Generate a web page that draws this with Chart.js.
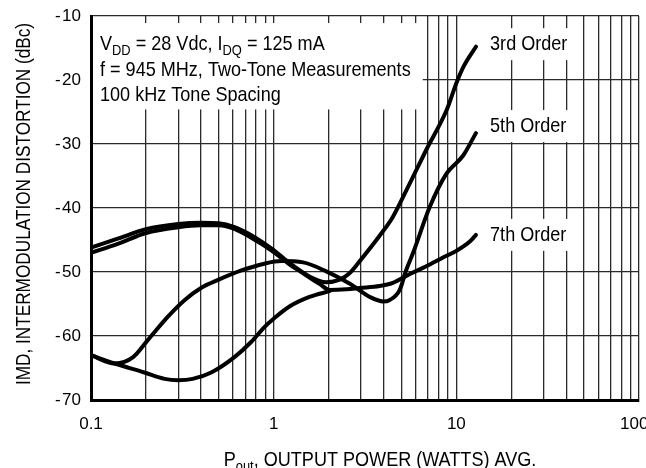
<!DOCTYPE html>
<html>
<head>
<meta charset="utf-8">
<script src="https://cdn.jsdelivr.net/npm/chart.js@4.4.1/dist/chart.umd.min.js"></script>
<style>
  html, body { margin: 0; padding: 0; background: #fff; }
  #wrap { width: 646px; height: 468px; }
</style>
</head>
<body>
<div id="wrap"><canvas id="imd"></canvas></div>
<script>
"use strict";

const FONT = '"Liberation Sans", Arial, sans-serif';
const NARROW = 0.86; // the original lettering is a condensed face

// Pout (W) vs IMD (dBc)
const thirdX = [0.1, 0.14, 0.2, 0.3, 0.4, 0.5, 0.6, 0.75, 0.97, 1.15, 1.22, 1.57, 1.94, 2.3, 2.6, 2.96, 3.81, 4.49, 5.57, 6.85, 8.85, 10, 11, 12.8];
const thirdY = [-46.2, -44.8, -43.3, -42.5, -42.3, -42.4, -42.9, -44.2, -46.3, -48.0, -48.6, -50.7, -51.6, -51.2, -50.2, -48.3, -44.3, -41.4, -36.1, -30.9, -24.7, -20.5, -17.8, -14.8];

const fifthX = [0.1, 0.135, 0.17, 0.205, 0.263, 0.325, 0.4, 0.5, 0.66, 0.89, 1.1, 1.45, 1.94, 2.6, 3.36, 3.97, 4.3, 4.9, 5.3, 5.8, 7.16, 8.85, 10.9, 12.8];
const fifthY = [-63.0, -64.3, -63.3, -60.6, -57.0, -54.4, -52.5, -51.2, -49.8, -48.7, -48.3, -48.5, -49.9, -51.8, -53.9, -54.6, -54.4, -52.8, -49.8, -47.0, -39.8, -34.6, -31.8, -28.3];

const seventhX = [0.1, 0.14, 0.2, 0.3, 0.4, 0.5, 0.6, 0.75, 0.97, 1.22, 1.45, 1.79, 2.02, 2.5, 2.96, 3.8, 4.49, 5.57, 6.85, 8.5, 10, 11.9, 12.8];
const seventhY = [-47.0, -45.6, -43.9, -43.0, -42.7, -42.7, -43.2, -44.6, -46.6, -48.8, -50.2, -51.9, -52.8, -52.7, -52.5, -52.2, -51.7, -50.3, -49.1, -47.7, -46.7, -45.2, -44.2];

// second low-power trace that joins the 7th order curve near 2 W
const lowTraceX = [0.1, 0.135, 0.196, 0.253, 0.3, 0.36, 0.455, 0.61, 0.755, 0.89, 1.0, 1.22, 1.57, 2.02];
const lowTraceY = [-63.0, -64.3, -65.7, -66.7, -66.9, -66.7, -65.7, -63.3, -60.9, -58.6, -57.3, -55.4, -53.9, -53.0];

const xLabelled = [0.1, 1, 10, 100];
const yTicks = [-10, -20, -30, -40, -50, -60, -70];
const orderNames = ["3rd Order", "5th Order", "7th Order"];

const xGrid = [];
for (let e = -1; e <= 1; e++) {
  for (let m = 1; m <= 9; m++) {
    xGrid.push(Number((m * Math.pow(10, e)).toPrecision(2)));
  }
}
xGrid.push(100);

function toPoints(xs, ys) {
  return xs.map((x, i) => ({x: x, y: ys[i]}));
}

function curve(label, xs, ys) {
  return {
    label: label,
    data: toPoints(xs, ys),
    borderColor: "#000",
    borderWidth: 4,
    borderCapStyle: "round",
    borderJoinStyle: "round",
    pointRadius: 0,
    fill: false,
    cubicInterpolationMode: "monotone"
  };
}

// text squeezed horizontally, with optional subscripts
function drawRich(ctx, parts, x, y, size) {
  ctx.save();
  ctx.translate(x, y);
  ctx.scale(NARROW, 1);
  let cx = 0;
  for (const part of parts) {
    const sub = part[1];
    ctx.font = (sub ? Math.round(size * 0.72) : size) + "px " + FONT;
    ctx.fillText(part[0], cx, sub ? size * 0.25 : 0);
    cx += ctx.measureText(part[0]).width;
  }
  ctx.restore();
  return cx * NARROW;
}

function richWidth(ctx, parts, size) {
  let w = 0;
  for (const part of parts) {
    ctx.font = (part[1] ? Math.round(size * 0.72) : size) + "px " + FONT;
    w += ctx.measureText(part[0]).width;
  }
  return w * NARROW;
}

const noteLines = [
  [["V"], ["DD", true], [" = 28 Vdc, I"], ["DQ", true], [" = 125 mA"]],
  [["f = 945 MHz, Two-Tone Measurements"]],
  [["100 kHz Tone Spacing"]]
];

const LABEL_AT = {x: 15.3, y: [-14.4, -27.2, -44.2]};

const annotations = {
  id: "annotations",
  beforeDatasetsDraw(chart) {
    const {ctx, chartArea, scales: {x, y}} = chart;
    ctx.save();
    ctx.fillStyle = "#fff";
    // conditions box
    const bx = chartArea.left + 2;
    const by = y.getPixelForValue(-11.1);
    ctx.fillRect(bx, by, x.getPixelForValue(6.55) - bx, y.getPixelForValue(-24.6) - by);
    // boxes behind the order labels
    const lx = x.getPixelForValue(LABEL_AT.x);
    LABEL_AT.y.forEach((v, i) => {
      const w = richWidth(ctx, [[orderNames[i]]], 21);
      const yc = y.getPixelForValue(v);
      ctx.fillRect(lx - 9, yc - 16, w + 18, 32);
    });
    ctx.restore();
  },
  afterDatasetsDraw(chart) {
    const {ctx, chartArea, scales: {x, y}} = chart;
    ctx.save();
    ctx.fillStyle = "#000";
    ctx.textAlign = "left";
    ctx.textBaseline = "alphabetic";
    const tx = chartArea.left + 9;
    noteLines.forEach((parts, i) => {
      drawRich(ctx, parts, tx, chartArea.top + 34 + i * 25.5, 21);
    });

    ctx.textBaseline = "middle";
    const lx = x.getPixelForValue(LABEL_AT.x);
    LABEL_AT.y.forEach((v, i) => {
      drawRich(ctx, [[orderNames[i]]], lx, y.getPixelForValue(v), 21);
    });
    ctx.restore();
  },
  afterDraw(chart) {
    const {ctx, chartArea} = chart;
    ctx.save();
    ctx.fillStyle = "#000";
    ctx.textAlign = "left";
    ctx.textBaseline = "alphabetic";
    // x axis title with subscript
    const parts = [["P"], ["out", true], [", OUTPUT POWER (WATTS) AVG."]];
    const w = richWidth(ctx, parts, 21);
    const cx = (chartArea.left + chartArea.right) / 2 + 15;
    drawRich(ctx, parts, cx - w / 2, 466, 21);

    // y axis title
    ctx.translate(30, (chartArea.top + chartArea.bottom) / 2 - 4);
    ctx.rotate(-Math.PI / 2);
    const yt = [["IMD, INTERMODULATION DISTORTION (dBc)"]];
    drawRich(ctx, yt, -richWidth(ctx, yt, 20) / 2, 0, 20);
    ctx.restore();
  }
};

new Chart(document.getElementById("imd"), {
  type: "line",
  data: {
    datasets: [
      curve(orderNames[0], thirdX, thirdY),
      curve(orderNames[1], fifthX, fifthY),
      curve(orderNames[2], seventhX, seventhY),
      curve(orderNames[2] + " (low power trace)", lowTraceX, lowTraceY)
    ]
  },
  options: {
    responsive: true,
    maintainAspectRatio: false,
    animation: false,
    layout: {padding: {top: 16, right: 7, left: 0, bottom: 0}},
    plugins: {
      legend: {display: false},
      tooltip: {enabled: false}
    },
    scales: {
      x: {
        type: "logarithmic",
        min: 0.1,
        max: 100,
        afterBuildTicks(scale) {
          scale.ticks = xGrid.map(v => ({value: v}));
        },
        afterFit(scale) {
          scale.height = 68;
          scale.paddingLeft = 0;
          scale.paddingRight = 0;
        },
        ticks: {
          autoSkip: false,
          maxRotation: 0,
          padding: 14,
          color: "#000",
          font: {family: FONT, size: 17},
          callback(value) {
            if (!xLabelled.includes(value)) {
              return "";
            }
            return value === 100 ? "100\u2007" : String(value);
          }
        },
        grid: {color: "#2a2a2a", lineWidth: 1.3, drawTicks: false},
        border: {display: true, color: "#000", width: 3}
      },
      y: {
        type: "linear",
        min: -70,
        max: -10,
        afterBuildTicks(scale) {
          scale.ticks = yTicks.map(v => ({value: v}));
        },
        afterFit(scale) {
          scale.width = 91;
          scale.paddingTop = 0;
          scale.paddingBottom = 0;
        },
        ticks: {
          padding: 10,
          color: "#000",
          font: {family: FONT, size: 17},
          callback(value) {
            return "-\u200a" + Math.abs(value);
          }
        },
        grid: {color: "#2a2a2a", lineWidth: 1.3, drawTicks: false},
        border: {display: true, color: "#000", width: 3}
      }
    }
  },
  plugins: [annotations]
});
</script>
</body>
</html>
